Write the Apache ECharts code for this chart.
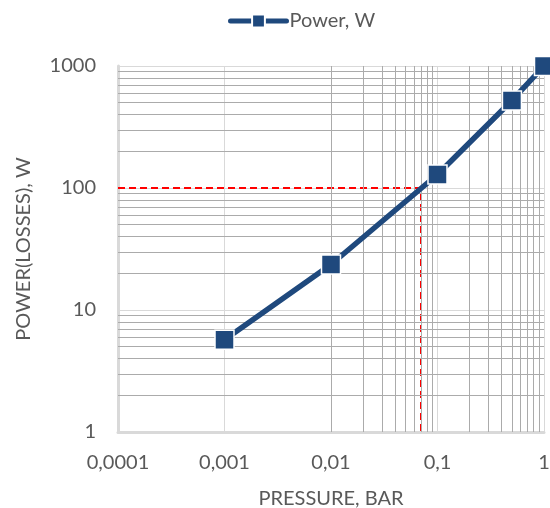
<!DOCTYPE html>
<html>
<head>
<meta charset="utf-8">
<script src="https://cdn.jsdelivr.net/npm/echarts@6/dist/echarts.min.js"></script>
<style>
html,body{margin:0;padding:0;background:#fff;}
#chart{width:550px;height:508px;}
</style>
</head>
<body>
<div id="chart"></div>
<script>
// Data
var pressure = [0.001, 0.01, 0.1, 0.5, 1];
var power = [5.7, 23.6, 129, 522, 1000];
var seriesName = 'Power, W';
var refPressure = 0.07;
var refPower = 100;
var xTickLabels = ['0,0001', '0,001', '0,01', '0,1', '1'];
var yTickLabels = ['1', '10', '100', '1000'];
var xMin = 0.0001, xMax = 1, yMin = 1, yMax = 1000;

var FONT = 'Lato';
var TXT = '#595959';

// minor grid positions (2..9 within each decade)
function minorValues(min, max) {
  var out = [];
  for (var e = Math.round(Math.log10(min)); e < Math.round(Math.log10(max)); e++) {
    for (var m = 2; m <= 9; m++) out.push(m * Math.pow(10, e));
  }
  return out;
}
var minorX = minorValues(xMin, xMax).map(function (v) { return { xAxis: v }; });
var minorY = minorValues(yMin, yMax).map(function (v) { return { yAxis: v }; });

var chart = echarts.init(document.getElementById('chart'));
chart.setOption({
  animation: false,
  textStyle: { fontFamily: FONT, color: TXT },
  legend: {
    top: 6,
    left: 223,
    data: [seriesName],
    itemWidth: 56,
    itemHeight: 16,
    itemGap: 4,
    lineStyle: { width: 5, cap: 'round' },
    textStyle: { fontFamily: FONT, fontSize: 20, color: TXT, padding: [0, 0, 0, -2] }
  },
  grid: { left: 118, right: 6, top: 66, bottom: 76, containLabel: false, outerBoundsMode: 'none' },
  xAxis: {
    type: 'log',
    logBase: 10,
    min: xMin,
    max: xMax,
    name: 'PRESSURE, BAR',
    nameLocation: 'middle',
    nameGap: 57,
    nameTextStyle: { fontFamily: FONT, fontSize: 20, color: TXT },
    axisLine: { show: true, lineStyle: { color: '#d9d9d9', width: 3 } },
    axisTick: { show: false },
    axisLabel: {
      fontFamily: FONT, fontSize: 20, color: TXT, margin: 21,
      formatter: function (v) { return xTickLabels[Math.round(Math.log10(v) - Math.log10(xMin))]; }
    },
    splitLine: { show: true, lineStyle: { color: '#d9d9d9', width: 1 } }
  },
  yAxis: {
    type: 'log',
    logBase: 10,
    min: yMin,
    max: yMax,
    name: 'POWER(LOSSES), W',
    nameLocation: 'middle',
    nameGap: 84,
    nameRotate: 90,
    nameTextStyle: { fontFamily: FONT, fontSize: 20, color: TXT },
    axisLine: { show: true, lineStyle: { color: '#d9d9d9', width: 3 } },
    axisTick: { show: false },
    axisLabel: {
      fontFamily: FONT, fontSize: 20, color: TXT, margin: 22,
      formatter: function (v) { return yTickLabels[Math.round(Math.log10(v) - Math.log10(yMin))]; }
    },
    splitLine: { show: true, lineStyle: { color: '#d9d9d9', width: 1 } }
  },
  series: [
    {
      name: 'minor',
      type: 'line',
      data: [],
      silent: true,
      markLine: {
        silent: true,
        symbol: 'none',
        label: { show: false },
        lineStyle: { color: '#ababab', width: 1, type: 'solid' },
        emphasis: { disabled: true },
        data: minorX.concat(minorY)
      }
    },
    {
      name: 'ref',
      type: 'line',
      data: [[xMin, refPower], [refPressure, refPower], [refPressure, yMin]],
      symbol: 'none',
      silent: true,
      lineStyle: { color: '#ff0000', width: 2, type: [7, 4] },
      z: 3
    },
    {
      name: seriesName,
      type: 'line',
      data: pressure.map(function (p, i) { return [p, power[i]]; }),
      symbol: 'rect',
      symbolSize: 19,
      lineStyle: { color: '#1F497D', width: 5.5 },
      itemStyle: { color: '#1F497D', borderColor: '#ffffff', borderWidth: 1.5 },
      z: 5
    }
  ]
});
</script>
</body>
</html>
